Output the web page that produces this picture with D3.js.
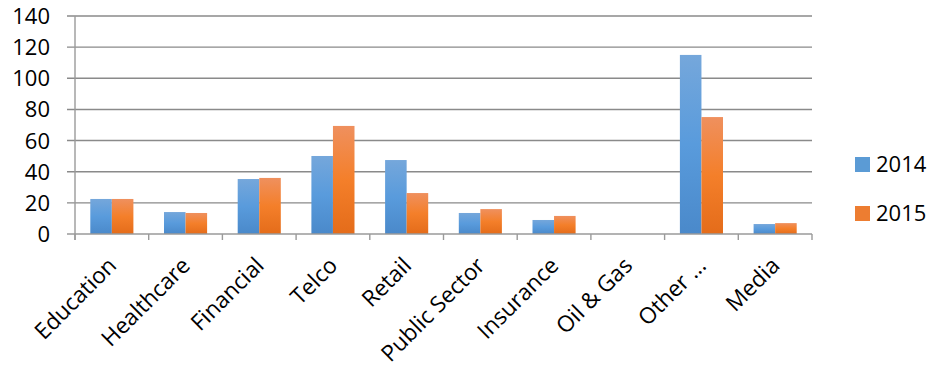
<!DOCTYPE html>
<html>
<head>
<meta charset="utf-8">
<script src="https://cdn.jsdelivr.net/npm/d3@7"></script>
<style>
  body { margin: 0; background: #fff; }
  text { font-family: "Open Sans", sans-serif; fill: #000; }
</style>
</head>
<body>
<div id="chart"></div>
<script>
// chart data
var categories = ["Education", "Healthcare", "Financial", "Telco", "Retail",
  "Public Sector", "Insurance", "Oil & Gas", "Other ...", "Media"];
var series = ["2014", "2015"];
var values2014 = [22.5, 14.1, 35.3, 50.1, 47.5, 13.5, 9, 0, 115, 6.4];
var values2015 = [22.5, 13.5, 36, 69.4, 26.3, 16, 11.6, 0, 75.1, 7];
var yTicks = [0, 20, 40, 60, 80, 100, 120, 140];

var W = 932, H = 371;
var mLeft = 75, mRight = 812, mTop = 16, mBottom = 234;

var svg = d3.select("#chart").append("svg")
  .attr("width", W).attr("height", H);

// gradients for the bars
var defs = svg.append("defs");
function gradient(id, c1, c2, c3) {
  var g = defs.append("linearGradient").attr("id", id)
    .attr("x1", 0).attr("y1", 0).attr("x2", 0).attr("y2", 1);
  g.append("stop").attr("offset", "0%").attr("stop-color", c1);
  g.append("stop").attr("offset", "50%").attr("stop-color", c2);
  g.append("stop").attr("offset", "100%").attr("stop-color", c3);
}
gradient("g2014", "#75a7db", "#599bdc", "#4a89ca");
gradient("g2015", "#ef905e", "#f47f2a", "#e46c1a");
var colors = { "2014": "url(#g2014)", "2015": "url(#g2015)" };
var legendColors = { "2014": "#5b9bd5", "2015": "#ed7d31" };

// scales
var x = d3.scaleBand().domain(categories).range([mLeft, mRight]).padding(0);
var x1 = d3.scaleBand().domain(series).range([0, x.bandwidth()]).paddingOuter(0.71).paddingInner(0);
var y = d3.scaleLinear().domain([0, 140]).range([mBottom, mTop]);

// gridlines
svg.append("g").selectAll("line").data(yTicks.slice(1)).enter().append("line")
  .attr("x1", mLeft - 8).attr("x2", mRight)
  .attr("y1", function(d) { return y(d); }).attr("y2", function(d) { return y(d); })
  .attr("stroke", "#8a8a8a").attr("stroke-width", 1.4);

// y axis line
svg.append("line").attr("x1", mLeft).attr("x2", mLeft)
  .attr("y1", mTop).attr("y2", mBottom + 6)
  .attr("stroke", "#9a9a9a").attr("stroke-width", 1.4);

// y tick labels
svg.append("g").selectAll("text").data(yTicks).enter().append("text")
  .attr("x", 50).attr("y", function(d) { return y(d) + 8; })
  .attr("text-anchor", "end").attr("font-size", "22px")
  .text(function(d) { return d; });

// bars
var rows = categories.map(function(c, i) {
  return { cat: c, vals: [{ s: "2014", v: values2014[i] }, { s: "2015", v: values2015[i] }] };
});
var groups = svg.append("g").selectAll("g").data(rows).enter().append("g")
  .attr("transform", function(d) { return "translate(" + x(d.cat) + ",0)"; });
groups.selectAll("rect").data(function(d) { return d.vals; }).enter().append("rect")
  .attr("x", function(d) { return x1(d.s); })
  .attr("width", x1.bandwidth())
  .attr("y", function(d) { return y(d.v); })
  .attr("height", function(d) { return mBottom - y(d.v); })
  .attr("fill", function(d) { return colors[d.s]; });

// x axis line and ticks
svg.append("line").attr("x1", mLeft - 8).attr("x2", mRight)
  .attr("y1", mBottom).attr("y2", mBottom)
  .attr("stroke", "#9a9a9a").attr("stroke-width", 1.4);
var tickPos = categories.map(function(c) { return x(c); }).concat([mRight]);
svg.append("g").selectAll("line").data(tickPos).enter().append("line")
  .attr("x1", function(d) { return d; }).attr("x2", function(d) { return d; })
  .attr("y1", mBottom).attr("y2", mBottom + 6)
  .attr("stroke", "#9a9a9a").attr("stroke-width", 1.4);

// category labels rotated
svg.append("g").selectAll("text").data(categories).enter().append("text")
  .attr("transform", function(d) {
    return "translate(" + (x(d) + x.bandwidth() / 2 + 6) + "," + (mBottom + 33) + ") rotate(-45)";
  })
  .attr("text-anchor", "end").attr("font-size", "22.5px")
  .text(function(d) { return d; });

// legend
var legend = svg.append("g").selectAll("g").data(series).enter().append("g")
  .attr("transform", function(d, i) { return "translate(855," + (157 + i * 49) + ")"; });
legend.append("rect").attr("width", 15).attr("height", 15)
  .attr("fill", function(d) { return legendColors[d]; });
legend.append("text").attr("x", 21).attr("y", 15)
  .attr("font-size", "22px").text(function(d) { return d; });
</script>
</body>
</html>
